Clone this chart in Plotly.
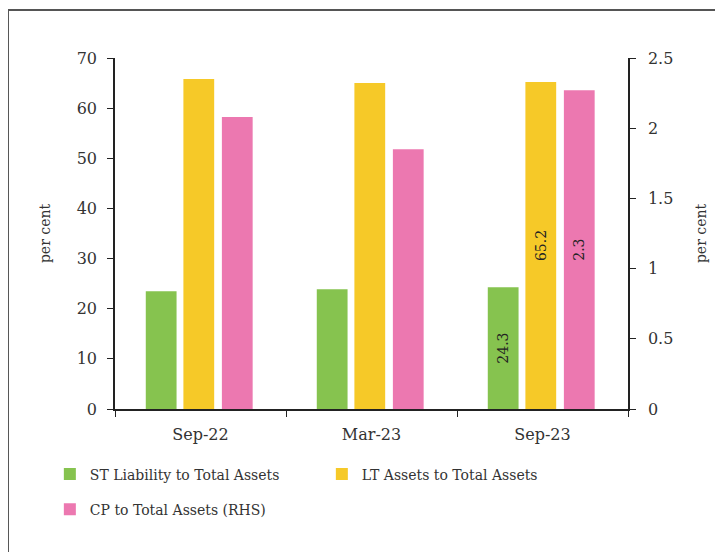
import plotly.graph_objects as go

categories = ["Sep-22", "Mar-23", "Sep-23"]
st_liability = [23.5, 23.9, 24.3]
lt_assets = [65.8, 65.0, 65.2]
cp_assets = [2.08, 1.85, 2.27]
st_labels = ["", "", "24.3"]
lt_labels = ["", "", "65.2"]
cp_labels = ["", "", "2.3"]
left_ticks = [0, 10, 20, 30, 40, 50, 60, 70]
right_ticks = [0, 0.5, 1, 1.5, 2, 2.5]
right_ticktext = ["0", "0.5", "1", "1.5", "2", "2.5"]

FONT = "DejaVu Serif"
TXT = "#333333"
bw = 0.18

fig = go.Figure()
fig.add_trace(go.Bar(
    x=categories, y=st_liability, name="ST Liability to Total Assets",
    marker=dict(color="#86C34F", line=dict(width=0)),
    width=bw, offset=-0.32, yaxis="y", legend="legend",
    text=st_labels, textposition="inside", insidetextanchor="middle",
    textangle=-90, textfont=dict(family=FONT, size=14, color="#222222"),
))
fig.add_trace(go.Bar(
    x=categories, y=lt_assets, name="LT Assets to Total Assets",
    marker=dict(color="#F6C928", line=dict(width=0)),
    width=bw, offset=-0.10, yaxis="y", legend="legend",
    text=lt_labels, textposition="inside", insidetextanchor="middle",
    textangle=-90, textfont=dict(family=FONT, size=14, color="#222222"),
))
fig.add_trace(go.Bar(
    x=categories, y=cp_assets, name="CP to Total Assets (RHS)",
    marker=dict(color="#EC78B0", line=dict(width=0)),
    width=bw, offset=0.125, yaxis="y2", legend="legend2",
    text=cp_labels, textposition="inside", insidetextanchor="middle",
    textangle=-90, textfont=dict(family=FONT, size=14, color="#222222"),
))

fig.update_layout(
    width=723, height=552,
    margin=dict(l=107, r=103, t=50, b=151),
    paper_bgcolor="white", plot_bgcolor="white",
    font=dict(family=FONT, size=14, color=TXT),
    barmode="overlay",
    xaxis=dict(
        type="category", range=[-0.5, 2.5],
        showline=True, linecolor="#222222", linewidth=1.5,
        ticks="outside", tickson="boundaries", ticklen=6, tickcolor="#222222",
        ticklabelstandoff=10,
        tickfont=dict(family=FONT, size=16, color=TXT),
        showgrid=False, zeroline=False,
    ),
    yaxis=dict(
        range=[0, 70], tickvals=left_ticks,
        showline=True, linecolor="#222222", linewidth=1.5,
        ticks="outside", ticklen=6, tickcolor="#222222", ticklabelstandoff=7,
        tickfont=dict(family=FONT, size=16, color=TXT),
        showgrid=False, zeroline=False,
        title=dict(text="per cent", font=dict(family=FONT, size=14, color=TXT), standoff=23),
    ),
    yaxis2=dict(
        range=[0, 2.5], tickvals=right_ticks, ticktext=right_ticktext,
        overlaying="y", side="right",
        showline=True, linecolor="#222222", linewidth=1.5,
        ticks="outside", ticklen=6, tickcolor="#222222", ticklabelstandoff=9,
        tickfont=dict(family=FONT, size=16, color=TXT),
        showgrid=False, zeroline=False,
        title=dict(text="per cent", font=dict(family=FONT, size=14, color=TXT), standoff=24),
    ),
    legend=dict(
        orientation="h", x=-0.127, xanchor="left", y=-0.141, yanchor="top",
        entrywidth=227, entrywidthmode="pixels",
        font=dict(family=FONT, size=14, color=TXT),
        bgcolor="rgba(0,0,0,0)", itemclick=False, itemdoubleclick=False,
    ),
    legend2=dict(
        orientation="h", x=-0.127, xanchor="left", y=-0.241, yanchor="top",
        font=dict(family=FONT, size=14, color=TXT),
        bgcolor="rgba(0,0,0,0)", itemclick=False, itemdoubleclick=False,
    ),
    showlegend=True,
    shapes=[dict(
        type="rect", xref="paper", yref="paper",
        x0=-0.2086, x1=1.25, y0=-0.45, y1=1.137,
        line=dict(color="#555555", width=2), fillcolor="rgba(0,0,0,0)",
        layer="below",
    )],
)

fig.write_html("out.html")
